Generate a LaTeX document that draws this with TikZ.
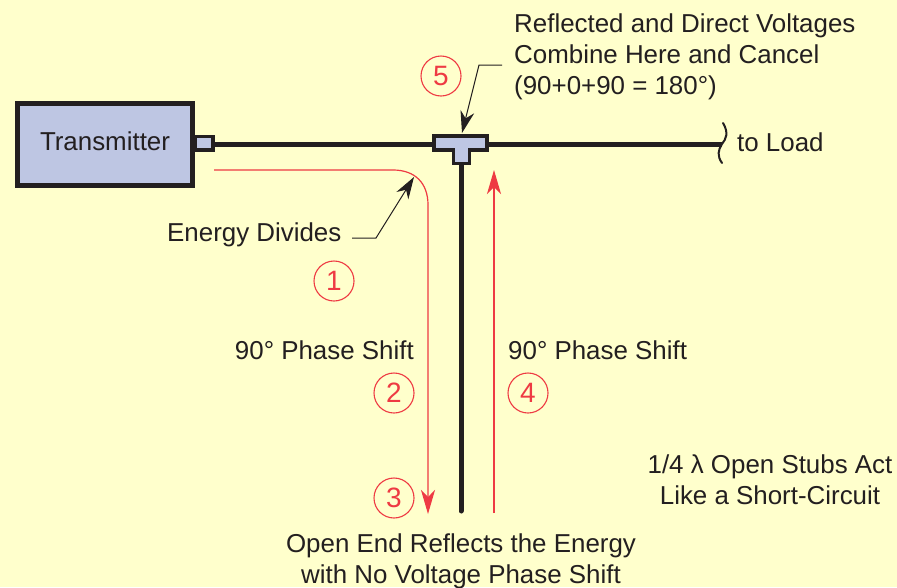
\documentclass[tikz,border=0pt]{standalone}
\usepackage{fontspec}
\setmainfont{Liberation Sans}
\usetikzlibrary{arrows.meta}
\definecolor{bgc}{HTML}{FFFFCC}
\definecolor{boxc}{HTML}{BEC6E3}
\definecolor{inkc}{HTML}{231F20}
\definecolor{redc}{HTML}{EE3A43}
\tikzset{
  lbl/.style={inner sep=0pt,text=inkc,font=\fontsize{25.9pt}{31pt}\selectfont},
  num/.style={circle,draw=redc,line width=1.1pt,minimum size=40pt,inner sep=0pt,text=redc,font=\fontsize{28pt}{30pt}\selectfont},
  wire/.style={draw=inkc,line width=5pt},
  part/.style={draw=inkc,fill=boxc,line width=3.5pt,line join=miter},
  redarrow/.style={draw=redc,line width=1.2pt,-{Stealth[length=24pt,width=14pt,inset=7pt]}},
  leader/.style={draw=inkc,line width=1pt,-{Stealth[length=22pt,width=14pt,inset=7pt]}}
}
\begin{document}
\begin{tikzpicture}[x=1pt,y=-1pt]
\useasboundingbox (0,0) rectangle (897,587);
\fill[bgc] (0,0) rectangle (897,587);
% wires
\coordinate (wl) at (213,144);
\coordinate (wr) at (722,144);
\coordinate (stemtop) at (461,160);
\coordinate (stemend) at (461,511);
\draw[wire] (wl) -- (wr);
\draw[wire,line cap=round] (stemtop) -- (stemend);
% transmitter
\node[part,line width=5pt,minimum width=175pt,minimum height=82pt,inner sep=0pt,anchor=center] (tx) at (105,144) {};
\node[lbl] (txt) at (105,141) {Transmitter};
\draw[part] (195,136.5) rectangle (213,150);
% T
\draw[part] (434,136) -- (487,136) -- (487,150) -- (469.5,150) -- (469.5,163.5) -- (453.5,163.5) -- (453.5,150) -- (434,150) -- cycle;
% break
\draw[draw=inkc,line width=2pt,line cap=round] (723,123) .. controls (729,133) and (726,139) .. (722,144) .. controls (718,150) and (717,156) .. (722,163);
% red arrows
\coordinate (r1) at (214,170);
\coordinate (r2) at (428,514);
\coordinate (r3) at (494,513);
\coordinate (r4) at (494,170);
\draw[redarrow] (r1) -- (393,170) .. controls (415,170) and (428,183) .. (428,205) -- (r2);
\draw[redarrow] (r3) -- (r4);
% labels
\node[lbl,anchor=west,align=left] (t5) at (514,56.5) {Reflected and Direct Voltages\\Combine Here and Cancel\\(90+0+90 = 180°)};
\node[lbl,anchor=west] (load) at (737,142) {to Load};
\node[lbl,anchor=west] (div) at (167,234.5) {Energy Divides};
\node[lbl,anchor=east] (ps1) at (414,350) {90° Phase Shift};
\node[lbl,anchor=west] (ps2) at (508,350) {90° Phase Shift};
\node[lbl,align=center] (stub) at (770,480) {1/4 λ Open Stubs Act\\Like a Short-Circuit};
\node[lbl,align=center] (open) at (461,561) {Open End Reflects the Energy\\with No Voltage Phase Shift};
% numbers
\node[num] (n1) at (334,281) {1};
\node[num] (n2) at (394,393) {2};
\node[num] (n3) at (394,498) {3};
\node[num] (n4) at (528,393) {4};
\node[num] (n5) at (441,76) {5};
% leaders
\coordinate (l5a) at (502,65);
\coordinate (l5b) at (479,65);
\coordinate (l5c) at (462,133);
\coordinate (l1a) at (352,238);
\coordinate (l1b) at (376,238);
\coordinate (l1c) at (414,177);
\draw[leader] (l5a) -- (l5b) -- (l5c);
\draw[leader] (l1a) -- (l1b) -- (l1c);
\end{tikzpicture}
\end{document}
